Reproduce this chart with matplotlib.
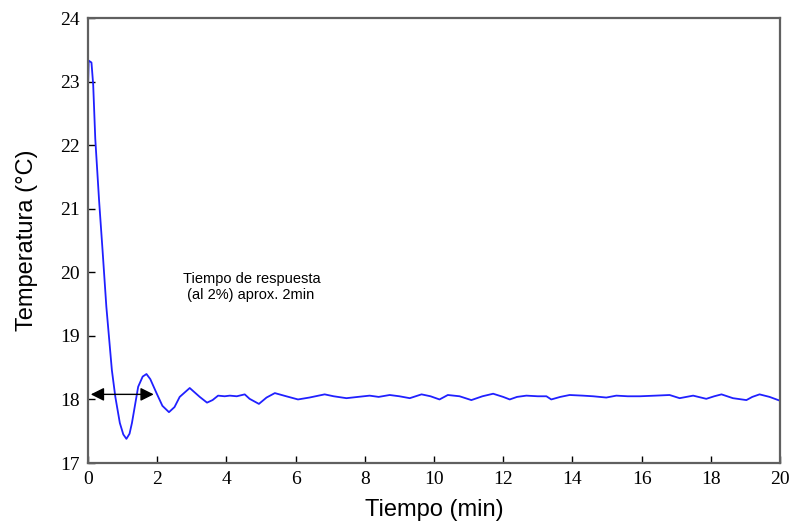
import matplotlib
matplotlib.use("Agg")
from matplotlib import pyplot

# temperature response
tiempo = [0, 0.02, 0.1, 0.15, 0.21, 0.32, 0.42, 0.53, 0.69, 0.79, 0.92, 1.02, 1.11, 1.2,
          1.27, 1.45, 1.58, 1.69, 1.8, 1.98, 2.15, 2.34, 2.5, 2.65, 2.94, 3.23, 3.44, 3.6,
          3.76, 3.95, 4.1, 4.3, 4.53, 4.67, 4.94, 5.16, 5.4, 5.73, 6.07, 6.4, 6.84, 7.1,
          7.47, 7.8, 8.14, 8.4, 8.72, 9.0, 9.3, 9.64, 9.9, 10.16, 10.4, 10.74, 11.08, 11.4,
          11.71, 12.0, 12.19, 12.4, 12.67, 13.0, 13.25, 13.39, 13.65, 13.92, 14.3, 14.6,
          14.98, 15.27, 15.6, 15.95, 16.4, 16.81, 17.1, 17.49, 17.87, 18.1, 18.31, 18.64,
          19.03, 19.2, 19.41, 19.7, 20.0]
temperatura = [22.9, 23.33, 23.3, 22.95, 22.1, 21.13, 20.35, 19.46, 18.46, 18.04, 17.63,
               17.45, 17.38, 17.46, 17.63, 18.2, 18.36, 18.4, 18.32, 18.1, 17.9, 17.8,
               17.88, 18.04, 18.18, 18.04, 17.95, 17.99, 18.06, 18.05, 18.06, 18.05, 18.08,
               18.01, 17.93, 18.03, 18.1, 18.05, 18.0, 18.03, 18.08, 18.05, 18.02, 18.04,
               18.06, 18.04, 18.07, 18.05, 18.02, 18.08, 18.05, 18.0, 18.07, 18.05, 17.99,
               18.05, 18.09, 18.04, 18.0, 18.04, 18.06, 18.05, 18.05, 18.0, 18.04, 18.07,
               18.06, 18.05, 18.03, 18.06, 18.05, 18.05, 18.06, 18.07, 18.02, 18.06, 18.01,
               18.05, 18.08, 18.02, 17.99, 18.04, 18.08, 18.04, 17.98]

x_ticks = list(range(0, 21, 2))
y_ticks = list(range(17, 25))

fig = pyplot.figure(figsize=(7.9, 5.27), dpi=100)
ax = fig.add_axes([0.1114, 0.1214, 0.8759, 0.8444])

ax.plot(tiempo, temperatura, color="#2020ff", lw=1.3)

ax.set_xlim(0, 20)
ax.set_ylim(17, 24)
ax.set_xticks(x_ticks)
ax.set_yticks(y_ticks)
ax.tick_params(direction="in", length=5, width=1, color="black",
               top=False, right=False, labelsize=14, pad=6)
for lab in ax.get_xticklabels() + ax.get_yticklabels():
    lab.set_fontfamily("Liberation Serif")
for s in ax.spines.values():
    s.set_color("#606060")
    s.set_linewidth(1.6)

label_font = dict(family="Liberation Sans", size=17)
ax.set_xlabel("Tiempo (min)", fontdict=label_font, labelpad=8)
ax.set_ylabel("Temperatura (°C)", fontdict=label_font, labelpad=16)

ax.annotate("", xy=(0, 18.08), xytext=(1.98, 18.08),
            arrowprops=dict(arrowstyle="<|-|>", color="black", lw=1, mutation_scale=20))
ax.text(2.74, 20.0, "Tiempo de respuesta\n (al 2%) aprox. 2min", family="Liberation Sans",
        fontsize=10.5, va="top", ha="left", linespacing=1.15)

fig.savefig("out.png", dpi=100)
